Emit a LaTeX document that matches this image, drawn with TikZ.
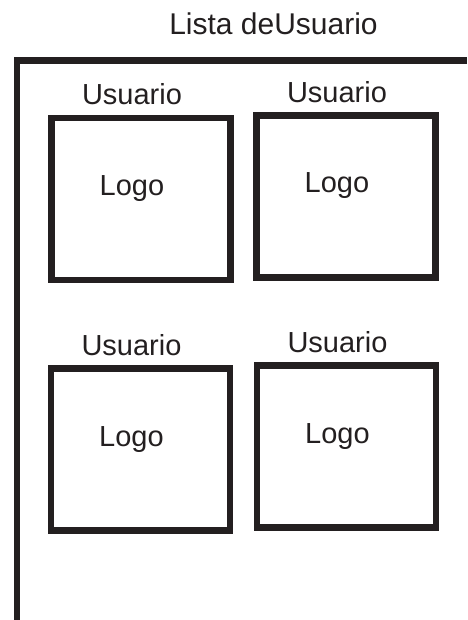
\documentclass[tikz,border=0pt]{standalone}
\usepackage{fontspec}
\setmainfont{Liberation Sans}
\usetikzlibrary{positioning}
\definecolor{ink}{HTML}{231F20}

\begin{document}
\begin{tikzpicture}[
  x=1pt, y=-1pt,
  frame/.style={draw=ink, line width=6.7pt, line join=miter},
  logobox/.style={draw=ink, line width=6.5pt, minimum width=179pt,
                  minimum height=162pt, inner sep=0pt, outer sep=0pt},
  caption/.style={inner sep=0pt, text=ink, font=\fontsize{29}{34}\selectfont}
]
  \useasboundingbox (0,0) rectangle (467,620);

  \node[caption, anchor=base, font=\fontsize{30}{36}\selectfont] (title) at (273.5,35) {Lista deUsuario};

  % list frame, open to the right and below
  \draw[frame] (17,620) -- (17,60.7) -- (467,60.7);

  \node[logobox] (box1) at (141,199)     {};
  \node[logobox] (box2) at (346,196.5)   {};
  \node[logobox] (box3) at (140.5,449.5) {};
  \node[logobox] (box4) at (346.5,446.5) {};

  \foreach \b in {1,...,4} {
    \node[caption, above=13pt of box\b, xshift=-9pt] (user\b) {Usuario};
    \node[caption, anchor=base] (logo\b) at ([shift={(-9pt,3.5pt)}]box\b.center) {Logo};
  }
\end{tikzpicture}
\end{document}
